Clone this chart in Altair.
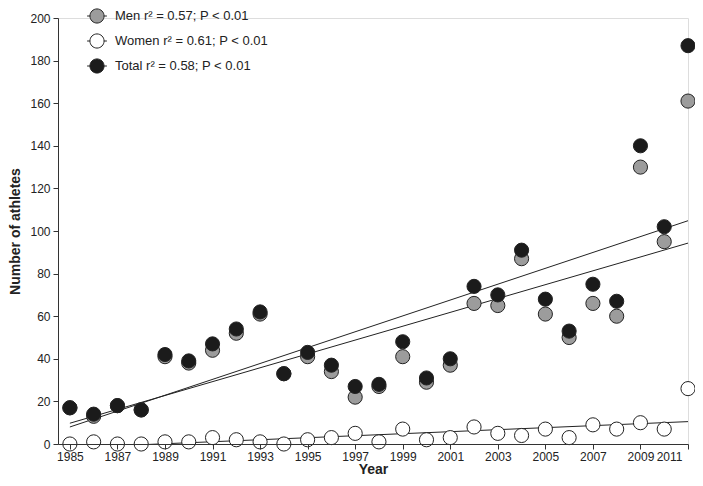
import altair as alt
import pandas as pd

years = list(range(1985, 2012))
men = [17, 13, 18, 16, 41, 38, 44, 52, 61, 33, 41, 34, 22, 27, 41, 29, 37, 66, 65, 87, 61, 50, 66, 60, 130, 95, 161]
women = [0, 1, 0, 0, 1, 1, 3, 2, 1, 0, 2, 3, 5, 1, 7, 2, 3, 8, 5, 4, 7, 3, 9, 7, 10, 7, 26]
total = [17, 14, 18, 16, 42, 39, 47, 54, 62, 33, 43, 37, 27, 28, 48, 31, 40, 74, 70, 91, 68, 53, 75, 67, 140, 102, 187]

series_names = ["Men r\u00b2 = 0.57; P < 0.01", "Women r\u00b2 = 0.61; P < 0.01", "Total r\u00b2 = 0.58; P < 0.01"]
series_fill = ["#9c9c9c", "#ffffff", "#1b1b1b"]
x_ticks = list(range(1985, 2012, 2))

rows = []
for order, (name, vals) in enumerate(zip(series_names, [men, women, total])):
    for y, v in zip(years, vals):
        rows.append({"Year": y, "Count": v, "Series": name, "order": order})
df = pd.DataFrame(rows)

FONT = "Liberation Sans"
x_enc = alt.X("Year:Q", scale=alt.Scale(domain=[1984.5, 2011], nice=False, zero=False),
              axis=alt.Axis(values=x_ticks, format="d", title="Year", grid=False,
                            tickSize=5, labelFontSize=12, titleFontSize=14, titleFontWeight="bold",
                            titlePadding=0, labelPadding=2, domainColor="#333", tickColor="#333",
                            labelColor="#222", titleColor="#222", zindex=1, labelFont=FONT, titleFont=FONT,
                            labelOffset={"condition": {"test": "datum.value == 2011", "value": -6}, "value": 0}))
y_enc = alt.Y("Count:Q", scale=alt.Scale(domain=[0, 200], nice=False),
              axis=alt.Axis(values=list(range(0, 201, 20)), title="Number of athletes", grid=False,
                            tickSize=5, labelFontSize=12, titleFontSize=14, titleFontWeight="bold",
                            titlePadding=7, labelPadding=3, domainColor="#333", tickColor="#333",
                            labelColor="#222", titleColor="#222", zindex=1, labelFont=FONT, titleFont=FONT))

symbol_path = "M-1,0A1,1 0 1,0 1,0A1,1 0 1,0 -1,0Z M-1.4,0L-1,0 M1,0L1.4,0"

points = alt.Chart(df).mark_point(filled=True, shape="circle", size=200, stroke="#222",
                                  strokeWidth=1, opacity=1).encode(
    x=x_enc,
    y=y_enc,
    color=alt.Color("Series:N", scale=alt.Scale(domain=series_names, range=series_fill),
                    legend=alt.Legend(orient="none", legendX=31, legendY=-10, title=None,
                                      symbolType=symbol_path, symbolSize=200,
                                      symbolStrokeColor="#222", symbolStrokeWidth=1,
                                      labelFont=FONT, labelFontSize=13, labelColor="#222",
                                      labelOffset=10, rowPadding=5, padding=0)),
    order=alt.Order("order:Q"),
)

reg = alt.Chart(df).transform_regression(
    "Year", "Count", groupby=["Series"], extent=[1985, 2011]
).mark_line(color="#222", strokeWidth=1, clip=True).encode(
    x="Year:Q",
    y="Count:Q",
    detail="Series:N",
)

chart = alt.layer(reg, points).properties(
    width=630, height=426,
    autosize=alt.AutoSizeParams(type="none"),
    padding={"left": 50, "top": 10, "right": 7, "bottom": 34},
).configure_view(stroke=None).configure(font=FONT)

chart.save("out.html", embed_options={"renderer": "svg", "actions": False})
